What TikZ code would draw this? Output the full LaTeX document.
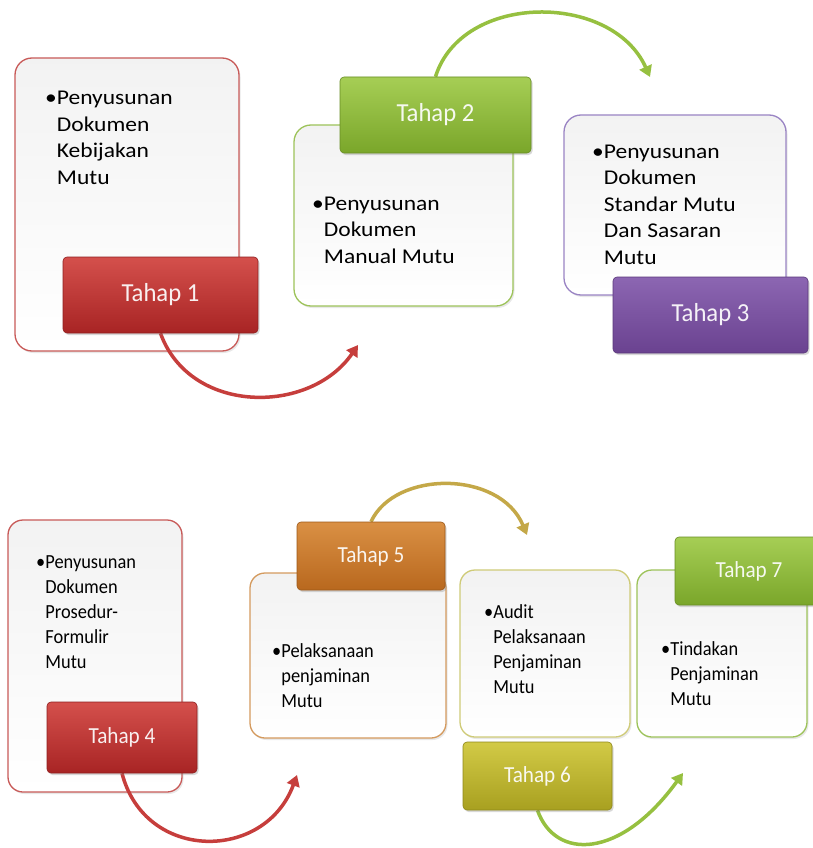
\documentclass[tikz,border=0pt]{standalone}
\usepackage{fontspec}
\setmainfont{Carlito}
\newfontfamily\topfont[FakeStretch=1.12]{Carlito}
\newfontfamily\botfont[FakeStretch=0.92]{Carlito}
\newfontfamily\toplab[FakeStretch=0.95]{Carlito}
\usetikzlibrary{shadows,arrows.meta}
\pgfdeclarelayer{fg}
\pgfsetlayers{main,fg}
\definecolor{redA}{HTML}{D4504C}
\definecolor{redB}{HTML}{A82424}
\definecolor{redL}{HTML}{C85A58}
\definecolor{grnA}{HTML}{A6CE55}
\definecolor{grnB}{HTML}{7AA62A}
\definecolor{grnL}{HTML}{9DC35A}
\definecolor{purA}{HTML}{8C66B2}
\definecolor{purB}{HTML}{6A4290}
\definecolor{purL}{HTML}{9A84C4}
\definecolor{orA}{HTML}{DA9044}
\definecolor{orB}{HTML}{B8681E}
\definecolor{orL}{HTML}{D49A5E}
\definecolor{olA}{HTML}{D2CA46}
\definecolor{olB}{HTML}{A8A020}
\definecolor{olL}{HTML}{CFCB78}
\definecolor{arR}{HTML}{C63E3C}
\definecolor{arG}{HTML}{96C040}
\definecolor{arO}{HTML}{C4A848}
\tikzset{
  panel/.style={draw=#1, line width=1.3pt, rounded corners=17pt,
    top color=black!5, bottom color=white, inner sep=0pt,
    drop shadow={opacity=0.18, shadow xshift=1.5pt, shadow yshift=-2pt}},
  tag/.style 2 args={rounded corners=4pt, top color=#1, bottom color=#2,
    draw=#2!85!black, line width=0.6pt, text=white!93!#2, inner sep=0pt,
    drop shadow={opacity=0.3, shadow xshift=1.5pt, shadow yshift=-2pt}},
  flow/.style={draw=#1, line width=3.5pt, -{Triangle[length=11pt,width=13pt]}},
  btext/.style={anchor=base west, inner sep=0pt, align=left},
  topbody/.style={btext, font=\topfont\fontsize{21}{26.5}\selectfont},
  botbody/.style={btext, font=\botfont\fontsize{20}{25}\selectfont},
  toplabel/.style={font=\toplab\fontsize{26}{30}\selectfont},
  botlabel/.style={font=\botfont\fontsize{23}{27}\selectfont}
}
\begin{document}
\begin{tikzpicture}[x=1pt,y=-1pt]
\path[use as bounding box, fill=white] (0,0) rectangle (813,848);
\clip (0,0) rectangle (813,848);
% panels
\node[panel=redL, minimum width=224pt, minimum height=293pt] (b1) at (127,204.5) {};
\node[panel=grnL, minimum width=219pt, minimum height=181pt] (b2) at (403.5,215.5) {};
\node[panel=purL, minimum width=222pt, minimum height=180pt] (b3) at (675,205) {};
\node[panel=redL, minimum width=174pt, minimum height=272pt, rounded corners=15pt] (b4) at (95,656) {};
\node[panel=orL, minimum width=196pt, minimum height=165pt, rounded corners=15pt] (b5) at (348,655.5) {};
\node[panel=olL, minimum width=170pt, minimum height=167pt, rounded corners=15pt] (b6) at (545,653.5) {};
\node[panel=grnL, minimum width=170pt, minimum height=167pt, rounded corners=15pt] (b7) at (722,653.5) {};
% texts
\node[topbody] (b1x) at (45,105) {\begin{tabular}[t]{@{}l@{}l@{}}\textbullet&Penyusunan\\&Dokumen\\&Kebijakan\\&Mutu\end{tabular}};
\node[topbody] (b2x) at (312,210) {\begin{tabular}[t]{@{}l@{}l@{}}\textbullet&Penyusunan\\&Dokumen\\&Manual Mutu\end{tabular}};
\node[topbody] (b3x) at (592,158) {\begin{tabular}[t]{@{}l@{}l@{}}\textbullet&Penyusunan\\&Dokumen\\&Standar Mutu\\&Dan Sasaran\\&Mutu\end{tabular}};
\node[botbody] (b4x) at (36,568) {\begin{tabular}[t]{@{}l@{}l@{}}\textbullet&Penyusunan\\&Dokumen\\&Prosedur-\\&Formulir\\&Mutu\end{tabular}};
\node[botbody] (b5x) at (272,657) {\begin{tabular}[t]{@{}l@{}l@{}}\textbullet&Pelaksanaan\\&penjaminan\\&Mutu\end{tabular}};
\node[botbody] (b6x) at (484,618) {\begin{tabular}[t]{@{}l@{}l@{}}\textbullet&Audit\\&Pelaksanaan\\&Penjaminan\\&Mutu\end{tabular}};
\node[botbody] (b7x) at (661,655) {\begin{tabular}[t]{@{}l@{}l@{}}\textbullet&Tindakan\\&Penjaminan\\&Mutu\end{tabular}};
% labels
\begin{pgfonlayer}{fg}
\node[tag={redA}{redB}, toplabel, minimum width=195pt, minimum height=76pt] (t1) at (160.5,295) {Tahap 1};
\node[tag={grnA}{grnB}, toplabel, minimum width=191pt, minimum height=76pt] (t2) at (435.5,115) {Tahap 2};
\node[tag={purA}{purB}, toplabel, minimum width=195pt, minimum height=76pt] (t3) at (710.5,315) {Tahap 3};
\node[tag={redA}{redB}, botlabel, minimum width=150pt, minimum height=71pt] (t4) at (122,737.5) {Tahap 4};
\node[tag={orA}{orB}, botlabel, minimum width=148pt, minimum height=68pt] (t5) at (371,556) {Tahap 5};
\node[tag={olA}{olB}, botlabel, minimum width=149pt, minimum height=68pt] (t6) at (537.5,776) {Tahap 6};
\node[tag={grnA}{grnB}, botlabel, minimum width=148pt, minimum height=68pt] (t7) at (749,571) {Tahap 7};
\end{pgfonlayer}
% arrows
\coordinate (e1) at (358,345);
\coordinate (e2) at (650,77);
\coordinate (e4) at (297,775);
\coordinate (e5) at (527,535);
\coordinate (e6) at (683,773);
\draw[flow=arR] (t1.south) .. controls (190,415) and (310,415) .. (e1);
\draw[flow=arG] (t2.north) .. controls (462,-8) and (612,-8) .. (e2);
\draw[flow=arR] (t4.south) .. controls (145,862) and (265,862) .. (e4);
\draw[flow=arO] (t5.north) .. controls (395,470) and (500,470) .. (e5);
\draw[flow=arG] (t6.south) .. controls (555,860) and (620,860) .. (e6);
\end{tikzpicture}
\end{document}
